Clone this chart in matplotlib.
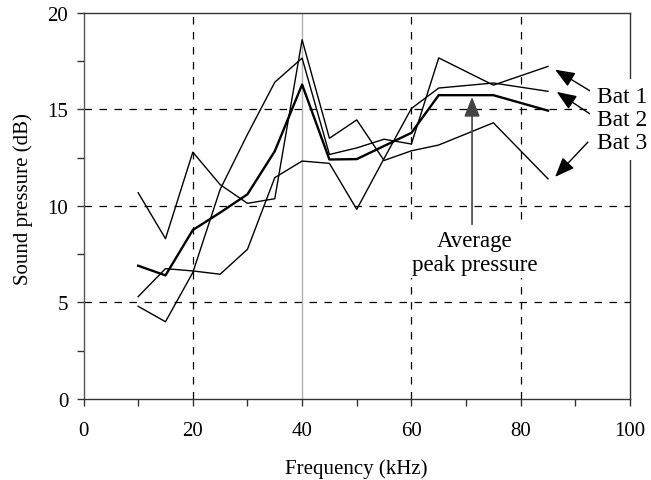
import matplotlib
matplotlib.use("Agg")
import matplotlib.pyplot as plt
from matplotlib.ticker import MultipleLocator

plt.rcParams['font.family'] = ['Liberation Serif', 'DejaVu Serif']
plt.rcParams['font.size'] = 15

# values
freq = [10, 15, 20, 25, 30, 35, 40, 45, 50, 55, 60, 65, 75, 85]
bat1 = [4.8, 4.0, 6.55, 10.85, 13.7, 16.4, 17.65, 12.66, 13.0, 13.45, 13.2, 17.66, 16.25, 17.22]
bat2 = [5.3, 6.75, 6.63, 6.46, 7.75, 11.46, 12.32, 12.2, 9.82, 12.45, 15.04, 16.1, 16.36, 15.93]
bat3 = [10.68, 8.3, 12.78, 11.1, 10.13, 10.37, 18.6, 13.5, 14.45, 12.35, 12.85, 13.15, 14.3, 11.4]
average = [6.9, 6.4, 8.75, 9.65, 10.6, 12.83, 16.28, 12.4, 12.42, 13.1, 13.78, 15.73, 15.73, 14.93]

bat_labels = "Bat 1\nBat 2\nBat 3"
avg_label = "Average\npeak pressure"

fig = plt.figure(figsize=(6.51, 4.81), dpi=100)
ax = fig.add_axes([0.1283, 0.1684, 0.9677 - 0.1283, 0.9715 - 0.1684])

# grid
for y in [5, 10, 15]:
    ax.axhline(y, color='k', lw=0.9, ls=(0, (6, 6)), zorder=1)
for x in [20, 60, 80]:
    ax.axvline(x, color='k', lw=0.9, ls=(0, (6, 6)), zorder=1)
ax.axvline(40, color='#b0b0b0', lw=1.0, zorder=1)

for s in [bat1, bat2, bat3]:
    ax.plot(freq, s, color='k', lw=1.0, zorder=2)
ax.plot(freq, average, color='k', lw=1.7, zorder=2)

ax.set_xlim(0, 100)
ax.set_ylim(0, 20)
ax.xaxis.set_major_locator(MultipleLocator(20))
ax.xaxis.set_minor_locator(MultipleLocator(10))
ax.yaxis.set_major_locator(MultipleLocator(5))
ax.yaxis.set_minor_locator(MultipleLocator(2.5))
ax.tick_params(which='both', direction='out', length=5, width=1, color='#333')
ax.tick_params(axis='x', pad=11)
ax.tick_params(axis='y', pad=6)
for sp in ax.spines.values():
    sp.set_color('#333')
    sp.set_linewidth(1.0)
ax.spines['left'].set_color('#555')

ax.set_xlabel("Frequency (kHz)", labelpad=13)
ax.set_ylabel("Sound pressure (dB)")
ax.yaxis.set_label_coords(-0.092, 0.52)

# bat labels with arrows
arrow_kw = dict(arrowstyle='-|>,head_length=0.8,head_width=0.32', color='k',
                lw=1.0, mutation_scale=15, shrinkA=0, shrinkB=0)
ax.annotate('', xy=(86.3, 17.05), xytext=(93.0, 15.9), arrowprops=arrow_kw, zorder=4)
ax.annotate('', xy=(86.6, 15.9), xytext=(93.0, 14.7), arrowprops=arrow_kw, zorder=4)
ax.annotate('', xy=(86.3, 11.5), xytext=(92.3, 13.3), arrowprops=arrow_kw, zorder=4)
ax.text(94.0, 14.47, bat_labels, ha='left', va='center', linespacing=1.12,
        fontsize=17,
        bbox=dict(facecolor='white', edgecolor='none', pad=5), zorder=5)

# average annotation
avg_kw = dict(arrowstyle='-|>,head_length=0.8,head_width=0.32', color='#444',
              lw=1.2, mutation_scale=15, shrinkA=0, shrinkB=0)
ax.annotate('', xy=(71.1, 15.64), xytext=(71.1, 9.04), arrowprops=avg_kw, zorder=4)
ax.text(71.6, 7.6, avg_label, ha='center', va='center', linespacing=1.2,
        fontsize=16.5,
        bbox=dict(facecolor='white', edgecolor='none', pad=2), zorder=5)

fig.savefig("out.png", dpi=100)
